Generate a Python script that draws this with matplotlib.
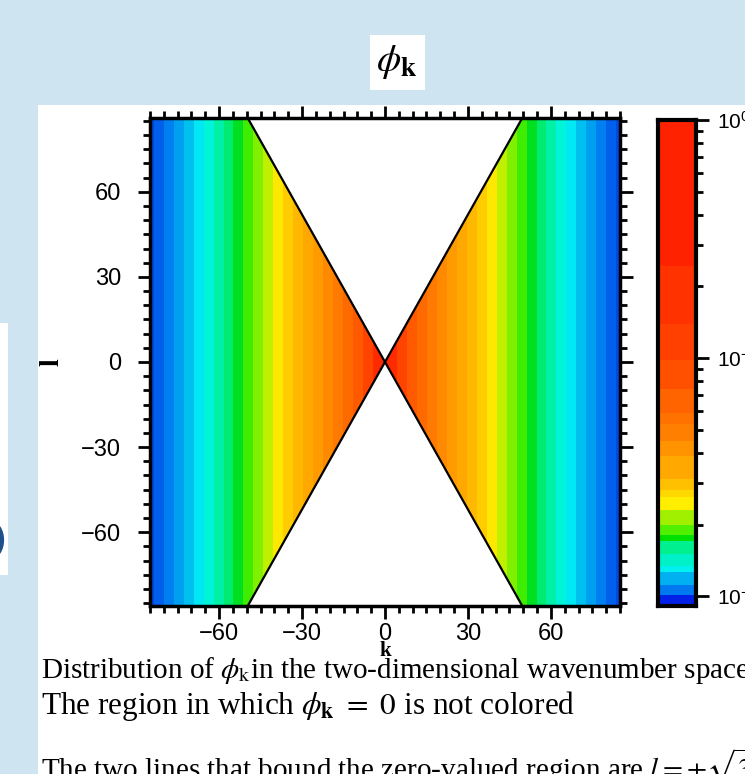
import numpy as np
import matplotlib
matplotlib.use("Agg")
import matplotlib.pyplot as plt
from matplotlib.colors import ListedColormap
from matplotlib.patches import Rectangle, Ellipse
from matplotlib.ticker import MultipleLocator, LogLocator, NullFormatter

# colour bands of phi_k across |k| (band edges)
k_band_edges = [0, 4.3, 7.9, 11.5, 15.2, 18.8, 22.4, 26.0, 29.6, 33.2, 36.8, 40.4,
                44.0, 47.6, 51.2, 54.8, 58.4, 62.0, 65.6, 69.2, 72.8, 76.4, 80.0,
                83.6, 87.2]
k_band_colors = ["#ff2a00", "#ff4400", "#ff5a00", "#ff6a00", "#ff7a00", "#ff8a00",
                 "#ff9a00", "#ffa800", "#ffb800", "#ffcc00", "#ffe800", "#c0f000",
                 "#80f000", "#40ec00", "#00e020", "#00ec70", "#00f0a8", "#00f4d8",
                 "#00e8f4", "#00c0f0", "#00a0f0", "#0080f0", "#0060ec", "#0048e4"]

# colour bar levels (bottom to top) and the colour of each band
cbar_levels = [0.0091, 0.0101, 0.0112, 0.0127, 0.0134, 0.015, 0.017, 0.018, 0.020,
               0.023, 0.026, 0.028, 0.031, 0.039, 0.045, 0.053, 0.059, 0.074,
               0.098, 0.139, 0.243, 1.0]
cbar_colors = ["#0020e8", "#0078f0", "#00b0f0", "#00f0f0", "#00f0c8", "#00f090",
               "#00e000", "#50f000", "#a0f000", "#ffee00", "#ffd800", "#ffc000",
               "#ffa800", "#ff9400", "#ff8000", "#ff7200", "#ff6400", "#ff5000",
               "#ff4000", "#ff3200", "#ff2200"]
cbar_ticks = [1e-2, 1e-1, 1e0]

zero_line_slope = np.sqrt(3)   # l = +-sqrt(3) k bounds the zero region
k_lim = (-85, 85)
l_lim = (-86, 86)
k_ticks = [-60, -30, 0, 30, 60]
l_ticks = [-60, -30, 0, 30, 60]

caption = [r"Distribution of $\phi_{\rm k}$in the two-dimensional wavenumber space",
           r"The region in which $\phi_{\mathbf{k}}\ =\ 0$ is not colored",
           r"The two lines that bound the zero-valued region are $l = \pm\sqrt{3}\,k$"]
caption_y = [671, 706, 767]
caption_size = [21, 22.5, 21]

plt.rcParams["font.family"] = ["Liberation Sans", "DejaVu Sans"]
plt.rcParams["mathtext.fontset"] = "stix"

W, H = 745, 774
fig = plt.figure(figsize=(W / 100, H / 100), dpi=100, facecolor="#cfe4f1")

def fx(px):
    return px / W

def fy(py):
    return 1 - py / H

# slide background pieces
fig.patches.append(Rectangle((fx(38), 0), 1 - fx(38), fy(105), transform=fig.transFigure,
                             facecolor="white", edgecolor="none", zorder=-10))
fig.patches.append(Rectangle((0, fy(575)), fx(8), fy(323) - fy(575), transform=fig.transFigure,
                             facecolor="white", edgecolor="none", zorder=-10))
fig.patches.append(Ellipse((fx(-9), fy(540)), fx(22), 34 / H, transform=fig.transFigure,
                           facecolor="none", edgecolor="#1f4e8c", linewidth=3, zorder=-9))
fig.patches.append(Rectangle((fx(370), fy(90)), fx(55), fy(35) - fy(90), transform=fig.transFigure,
                             facecolor="white", edgecolor="none", zorder=-10))
fig.text(fx(397), fy(62), r"$\phi_{\mathbf{k}}$", fontsize=28, ha="center", va="center")

# main panel
ax = fig.add_axes([fx(150), fy(606), fx(620) - fx(150), fy(118) - fy(606)])
kk = np.linspace(k_lim[0], k_lim[1], 1700)
ll = np.linspace(l_lim[0], l_lim[1], 1720)
K, L = np.meshgrid(kk, ll)
band = np.digitize(np.abs(K), k_band_edges) - 1
band = np.ma.masked_where(np.abs(L) > zero_line_slope * np.abs(K), band)
cmap = ListedColormap(k_band_colors)
cmap.set_bad("white")
ax.imshow(band, extent=[k_lim[0], k_lim[1], l_lim[0], l_lim[1]], origin="lower",
          cmap=cmap, vmin=-0.5, vmax=len(k_band_colors) - 0.5,
          interpolation="nearest", aspect="auto")

for sign in (1, -1):
    ax.plot([l_lim[0] / (sign * zero_line_slope), l_lim[1] / (sign * zero_line_slope)],
            l_lim, color="black", lw=1.6)

ax.set_xlim(k_lim)
ax.set_ylim(l_lim)
ax.set_xticks(k_ticks)
ax.set_yticks(l_ticks)
ax.xaxis.set_minor_locator(MultipleLocator(5))
ax.yaxis.set_minor_locator(MultipleLocator(5))
ax.tick_params(which="both", direction="out", top=True, right=True, width=2, labelsize=17)
ax.tick_params(which="major", length=9)
ax.tick_params(which="minor", length=5)
ax.tick_params(axis="x", which="major", pad=3)
ax.tick_params(axis="y", which="major", pad=12)
for s in ax.spines.values():
    s.set_linewidth(2.5)
ax.set_ylabel("l", family="Liberation Serif", fontweight="bold", fontsize=20, labelpad=12)
# x label squeezed between the tick labels and the caption, as on the slide
fig.text(fx(385), fy(651), "k", family="Liberation Serif", fontweight="bold",
         fontsize=15, ha="center", va="center")

# colour bar
cax = fig.add_axes([fx(658), fy(606), fx(696) - fx(658), fy(120) - fy(606)])
cax.set_yscale("log")
for lo, hi, c in zip(cbar_levels[:-1], cbar_levels[1:], cbar_colors):
    cax.axhspan(lo, hi, color=c, lw=0)
cax.set_ylim(cbar_levels[0], cbar_levels[-1])
cax.set_xticks([])
cax.set_yticks(cbar_ticks)
cax.yaxis.set_minor_locator(LogLocator(base=10, subs=np.arange(2, 10)))
cax.yaxis.set_minor_formatter(NullFormatter())
cax.yaxis.tick_right()
cax.tick_params(which="both", direction="out", width=2, labelsize=15, pad=6)
cax.tick_params(which="major", length=9)
cax.tick_params(which="minor", length=5)
for s in cax.spines.values():
    s.set_linewidth(3)

# caption lines from the slide
for line, y, size in zip(caption, caption_y, caption_size):
    fig.text(fx(41), fy(y), line, fontsize=size, family="Liberation Serif",
             va="center", ha="left")

fig.savefig("out.png", dpi=100, facecolor=fig.get_facecolor())
